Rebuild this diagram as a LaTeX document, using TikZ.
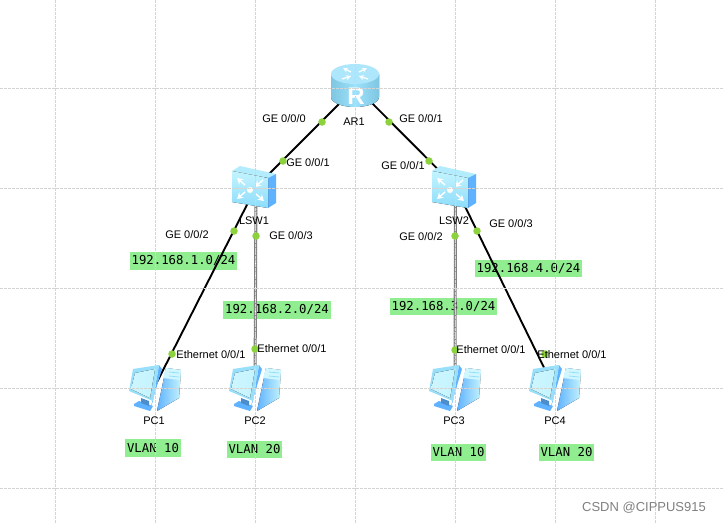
\documentclass[tikz,border=0pt]{standalone}
\usepackage{fontspec}
\usetikzlibrary{arrows.meta}
\setmainfont{Liberation Sans}
\setmonofont{DejaVu Sans Mono}
\definecolor{portgreen}{HTML}{8CD23C}
\definecolor{netgreen}{HTML}{90EE90}
\definecolor{iconlight}{HTML}{C4F4FF}
\definecolor{iconmid}{HTML}{8CDCFA}
\definecolor{iconblue}{HTML}{5FB2FF}
\tikzset{
  hub/.style={inner sep=0pt, minimum size=1pt},
  gridline/.style={color=black!17, line width=0.7pt, dash pattern=on 2.5pt off 1.5pt},
  link/.style={line width=1.9pt, color=black},
  trunk/.style={line width=3pt, color=black!50},
  trunkdots/.style={line width=0.8pt, color=white, dash pattern=on 1.5pt off 1.5pt},
  port/.style={circle, fill=portgreen, inner sep=0pt, minimum size=7.5pt},
  lab/.style={font=\fontsize{11}{13}\selectfont, inner sep=0pt},
  net/.style={fill=netgreen, font=\ttfamily\fontsize{12.3}{14}\selectfont, inner xsep=2pt, inner ysep=0pt, minimum height=17.5pt},
  routericon/.pic={
    \fill[left color=iconmid!90!black, right color=iconmid!90!black, middle color=iconmid!85!white] (-24,-12) -- (-24,11) arc[start angle=180, end angle=0, x radius=24, y radius=10] -- (24,-12) -- cycle;
    \fill[iconmid!70!white] (0,-12) ellipse[x radius=24, y radius=10];
    \draw[white, line width=1.2pt, -stealth] (-4,-14) -- (-12,-18);
    \draw[white, line width=1.2pt, -stealth] (4,-14) -- (12,-18);
    \draw[white, line width=1.2pt, -stealth] (-13,-7) -- (-4,-10);
    \draw[white, line width=1.2pt, -stealth] (13,-7) -- (4,-10);
    \node[text=white, font=\fontsize{24}{24}\selectfont\bfseries, inner sep=0pt] at (1,10) {R};
  },
  switchicon/.pic={
    \fill[iconlight!70!iconmid] (-22,-16) -- (-14,-21) -- (22,-13) -- (14,-9) -- cycle;
    \fill[iconblue] (14,-9) -- (22,-13) -- (22,16) -- (14,21) -- cycle;
    \fill[top color=iconlight, bottom color=iconmid] (-22,-16) -- (14,-9) -- (14,21) -- (-22,15) -- cycle;
    \draw[white, line width=1.5pt, -{Stealth[length=6pt,width=7pt]}] (-9,-2) -- (-17,-9);
    \draw[white, line width=1.5pt, -{Stealth[length=6pt,width=7pt]}] (9,-7) -- (1,0);
    \draw[white, line width=1.5pt, -{Stealth[length=6pt,width=7pt]}] (-9,5) -- (-17,12);
    \draw[white, line width=1.5pt, -{Stealth[length=6pt,width=7pt]}] (2,7) -- (10,14);
    \fill[white] (-4,3) circle[radius=3];
  },
  pcicon/.pic={
    \fill[left color=iconblue, right color=iconlight] (12,-20) -- (27,-18) -- (25,10) -- (3,23) -- cycle;
    \fill[iconlight!80!white] (12,-20) -- (27,-18) -- (26.2,-8) -- (9,-10) -- cycle;
    \fill[iconblue] (5,-23) -- (8,-19) -- (-4,21) -- (-1,13) -- cycle;
    \fill[iconblue] (-20,16) -- (-15,13) -- (-1,18) -- (-4,23) -- (-20,18) -- cycle;
    \fill[iconblue!80!black] (-13,10) -- (-5,13) -- (-5,18) -- (-13,15) -- cycle;
    \fill[iconmid!90!white] (-21,-19) -- (5,-23) -- (-1,13) -- (-25,3) -- cycle;
    \fill[left color=iconlight!85!white, right color=iconlight] (-19,-15) -- (1,-19) -- (-4,10) -- (-23,1) -- cycle;
    \draw[iconmid, line width=0.7pt] (15,-16) -- (25,-15);
    \draw[iconmid, line width=0.7pt] (15,-12) -- (25,-11);
  },
}
\begin{document}
\begin{tikzpicture}[x=1pt,y=-1pt]
\useasboundingbox[fill=white] (0,0) rectangle (724,523);
% networks and vlans
\node[net] (net1) at (183.5,261) {192.168.1.0/24};
\node[net] (net2) at (277,310) {192.168.2.0/24};
\node[net] (net3) at (443.5,306.5) {192.168.3.0/24};
\node[net] (net4) at (528.5,268.5) {192.168.4.0/24};
\node[net] (vlan1) at (153,448) {VLAN 10};
\node[net] (vlan2) at (254.5,449.5) {VLAN 20};
\node[net] (vlan3) at (458.5,452.5) {VLAN 10};
\node[net] (vlan4) at (566.5,452.5) {VLAN 20};
% devices
\node[hub] (AR1) at (356,87) {};
\node[hub] (LSW1) at (256,187) {};
\node[hub] (LSW2) at (455.5,187) {};
\node[hub] (PC1) at (154,388) {};
\node[hub] (PC2) at (255,388) {};
\node[hub] (PC3) at (455,388) {};
\node[hub] (PC4) at (554,388) {};
% links
\draw[link] (AR1) -- (LSW1);
\draw[link] (AR1) -- (LSW2);
\draw[link] (LSW1) -- (PC1);
\draw[link] (LSW2) -- (PC4);
\draw[trunk] (LSW1) -- (PC2);
\draw[trunkdots] (LSW1) -- (PC2);
\draw[trunk] (LSW2) -- (PC3);
\draw[trunkdots] (LSW2) -- (PC3);
\pic at (355,86) {routericon};
\pic at (254,187) {switchicon};
\pic at (454,187) {switchicon};
\pic at (154,388) {pcicon};
\pic at (254,388) {pcicon};
\pic at (454,388) {pcicon};
\pic at (554,388) {pcicon};
% background grid
\draw[gridline] (55,0) -- (55,523);
\draw[gridline] (155,0) -- (155,523);
\draw[gridline] (255,0) -- (255,523);
\draw[gridline] (355,0) -- (355,523);
\draw[gridline] (455,0) -- (455,523);
\draw[gridline] (555,0) -- (555,523);
\draw[gridline] (655,0) -- (655,523);
\draw[gridline] (0,88) -- (724,88);
\draw[gridline] (0,188) -- (724,188);
\draw[gridline] (0,288) -- (724,288);
\draw[gridline] (0,388) -- (724,388);
\draw[gridline] (0,488) -- (724,488);
% ports
\node[port] (p1) at (322,122) {};
\node[port] (p2) at (283,161) {};
\node[port] (p3) at (389,122) {};
\node[port] (p4) at (429,161) {};
\node[port] (p5) at (234,231) {};
\node[port] (p6) at (256,236) {};
\node[port] (p7) at (455,236) {};
\node[port] (p8) at (477,231) {};
\node[port] (p9) at (172,354) {};
\node[port] (p10) at (255,349) {};
\node[port] (p11) at (455,350) {};
\node[port] (p12) at (545,354) {};
% labels
\node[lab] (l1) at (284,119) {GE 0/0/0};
\node[lab] (l2) at (308,163) {GE 0/0/1};
\node[lab] (l3) at (421,119) {GE 0/0/1};
\node[lab] (l4) at (403,166) {GE 0/0/1};
\node[lab] (l5) at (187,235) {GE 0/0/2};
\node[lab] (l6) at (291,236) {GE 0/0/3};
\node[lab] (l7) at (421,237) {GE 0/0/2};
\node[lab] (l8) at (511,224) {GE 0/0/3};
\node[lab] (l9) at (211,355) {Ethernet 0/0/1};
\node[lab] (l10) at (292,349) {Ethernet 0/0/1};
\node[lab] (l11) at (491,350) {Ethernet 0/0/1};
\node[lab] (l12) at (572,355) {Ethernet 0/0/1};
\node[lab] (n1) at (354,122) {AR1};
\node[lab] (n2) at (254,221) {LSW1};
\node[lab] (n3) at (454,221) {LSW2};
\node[lab] (n4) at (154,421) {PC1};
\node[lab] (n5) at (255,421) {PC2};
\node[lab] (n6) at (454,421) {PC3};
\node[lab] (n7) at (555,421) {PC4};
\node[lab, text=black!50, font=\fontsize{13}{15}\selectfont] (mark) at (644,508) {CSDN @CIPPUS915};
\end{tikzpicture}
\end{document}
